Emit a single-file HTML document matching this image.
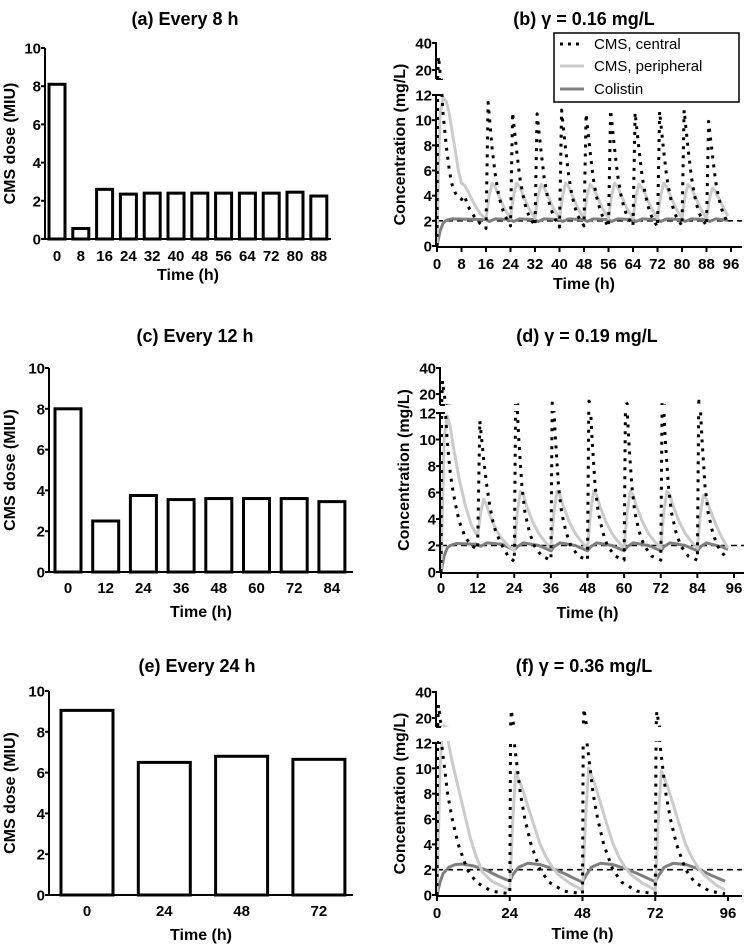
<!DOCTYPE html>
<html><head><meta charset="utf-8">
<style>
html,body{margin:0;padding:0;background:#fff;}
svg{display:block;font-family:"Liberation Sans",Arial,sans-serif;}
.t{font-weight:bold;fill:#000;}
</style></head>
<body>
<svg id="fig" width="749" height="946" viewBox="0 0 749 946" xmlns="http://www.w3.org/2000/svg">
<defs>
<clipPath id="cl-b"><rect x="437" y="93" width="310" height="160"/></clipPath>
<clipPath id="cu-b"><rect x="437" y="42" width="310" height="38"/></clipPath>
<clipPath id="cl-d"><rect x="441" y="411" width="306" height="168"/></clipPath>
<clipPath id="cu-d"><rect x="441" y="367" width="306" height="38"/></clipPath>
<clipPath id="cl-f"><rect x="437" y="741" width="310" height="160"/></clipPath>
<clipPath id="cu-f"><rect x="437" y="691" width="310" height="36"/></clipPath>
</defs>
</svg>
<script>
// ---------- DATA ----------
const catsA = ["0","8","16","24","32","40","48","56","64","72","80","88"];
const doseA = [8.1,0.55,2.6,2.35,2.4,2.4,2.4,2.4,2.4,2.4,2.45,2.25];
const catsC = ["0","12","24","36","48","60","72","84"];
const doseC = [8.0,2.5,3.75,3.55,3.6,3.6,3.6,3.45];
const catsE = ["0","24","48","72"];
const doseE = [9.05,6.5,6.8,6.65];
const barYTicks = [0,2,4,6,8,10];

const xTicksB = [0,8,16,24,32,40,48,56,64,72,80,88,96];
const xTicksD = [0,12,24,36,48,60,72,84,96];
const xTicksF = [0,24,48,72,96];
const concLowTicks = [0,2,4,6,8,10,12];
const concHighTicks = [20,40];
const target = 2;

const centralB = [[0,0],[0.5,30],[1,18],[1.5,12.5],[2,10.5],[3,8],[4,6],[5,4.8],[6,4.2],[7,3.9],[8,3.7],[9,4.0],[10,3.2],[12,2.4],[14,1.8],[16,1.4],
[16.7,11.4],[18,7.8],[19,5.7],[20,4.2],[21,3.2],[22,2.5],[24,1.6],
[24.7,10.6],[26,7.6],[27,5.5],[28,4.1],[29,3.1],[30,2.4],[32,1.6],
[32.7,10.5],[34,7.5],[35,5.4],[36,4.0],[37,3.1],[38,2.4],[40,1.5],
[40.7,10.8],[42,7.7],[43,5.6],[44,4.1],[45,3.1],[46,2.4],[48,1.6],
[48.7,10.5],[50,7.5],[51,5.4],[52,4.0],[53,3.1],[54,2.4],[56,1.5],
[56.7,10.8],[58,7.7],[59,5.6],[60,4.1],[61,3.1],[62,2.4],[64,1.6],
[64.7,10.6],[66,7.6],[67,5.5],[68,4.1],[69,3.1],[70,2.4],[72,1.5],
[72.7,10.7],[74,7.6],[75,5.5],[76,4.1],[77,3.1],[78,2.4],[80,1.6],
[80.7,10.8],[82,7.7],[83,5.6],[84,4.1],[85,3.1],[86,2.4],[88,1.6],
[88.7,9.9],[90,7.1],[91,5.1],[92,3.8],[93,2.9],[94,2.3],[95,1.8]];
const periphB = [[0,0],[0.5,6],[1,10.5],[2,11.8],[3,11.5],[4,10.5],[5,9],[6,7.5],[7,6],[8,5],[9,4.8],[10,4.4],[12,3.4],[14,2.6],[16,2.1],
[17,4],[18,5],[19,4.7],[20,4.1],[22,3],[24,2.2],[25,4],[26,5],[27,4.7],[28,4.1],[30,3],[32,2.2],[33,4],[34,4.9],[35,4.6],[36,4.1],[38,3],[40,2.2],
[41,4],[42,5],[43,4.7],[44,4.1],[46,3],[48,2.2],[49,4],[50,4.9],[51,4.6],[52,4.1],[54,3],[56,2.2],[57,4],[58,5],[59,4.7],[60,4.1],[62,3],[64,2.2],
[65,4],[66,4.9],[67,4.6],[68,4.1],[70,3],[72,2.2],[73,4],[74,5],[75,4.7],[76,4.1],[78,3],[80,2.2],[81,4],[82,4.9],[83,4.6],[84,4.1],[86,3],[88,2.2],
[89,3.8],[90,4.6],[91,4.3],[92,3.8],[94,2.8],[95,2.4]];
const colistinB = [[0,0],[1,1.2],[2,1.8],[3,2.05],[5,2.15],[16,2.1],[17,1.95],[19,2.15],[24,2.1],[25,1.95],[27,2.15],[32,2.1],[33,1.95],[35,2.15],
[40,2.1],[41,1.95],[43,2.15],[48,2.1],[49,1.95],[51,2.15],[56,2.1],[57,1.95],[59,2.15],[64,2.1],[65,1.95],[67,2.15],[72,2.1],[73,1.95],[75,2.15],
[80,2.1],[81,1.95],[83,2.15],[88,2.1],[89,1.95],[91,2.15],[95,2.05]];

const centralD = [[0,0],[0.5,30],[1,20],[1.5,12],[2,10],[3,7.5],[4,6],[5,4.8],[6,3.8],[8,2.6],[10,2],[12,1.7],
[12.7,11.4],[14,8.5],[15,6.5],[16,5],[17,3.8],[18,3],[20,2],[22,1.2],[24,0.8],
[24.5,14.5],[25.5,10],[26.5,6.5],[27.5,4.5],[29,3],[30.5,2],[33,1.2],[36,0.9],
[36.5,14.5],[37.5,10],[38.5,6.5],[39.5,4.5],[41,3],[42.5,2],[45,1.2],[48,0.9],
[48.5,14.5],[49.5,10],[50.5,6.5],[51.5,4.5],[53,3],[54.5,2],[57,1.2],[60,0.9],
[60.5,14.5],[61.5,10],[62.5,6.5],[63.5,4.5],[65,3],[66.5,2],[69,1.2],[72,0.9],
[72.5,14.5],[73.5,10],[74.5,6.5],[75.5,4.5],[77,3],[78.5,2],[81,1.2],[84,0.9],
[84.5,14.5],[85.5,10],[86.5,6.5],[87.5,4.5],[89,3],[90.5,2],[93,1.2],[94,1.1]];
const periphD = [[0,0],[1,10],[2,11.8],[3,11],[4,9.5],[6,7],[8,5],[10,3.5],[12,2.7],[13,4.5],[14,5.5],[15,5],[16,4.3],[18,3.2],[20,2.5],[22,2],[24,1.6],
[25,4.5],[26,6.1],[27,5.8],[28,5],[30,3.8],[32,2.9],[34,2.3],[36,1.8],[37,4.5],[38,6.1],[39,5.8],[40,5],[42,3.8],[44,2.9],[46,2.3],[48,1.8],
[49,4.5],[50,6.1],[51,5.8],[52,5],[54,3.8],[56,2.9],[58,2.3],[60,1.8],[61,4.5],[62,6.1],[63,5.8],[64,5],[66,3.8],[68,2.9],[70,2.3],[72,1.8],
[73,4.5],[74,6.1],[75,5.8],[76,5],[78,3.8],[80,2.9],[82,2.3],[84,1.8],[85,4.4],[86,5.8],[87,5.5],[88,4.8],[90,3.6],[92,2.6],[94,1.8]];
const colistinD = [[0,0],[1,1.2],[2,1.8],[3,2.0],[5,2.15],[12,2.1],[13,1.95],[15,2.2],[20,2.1],[24,1.65],[25,1.9],[27,2.2],[32,2.0],[36,1.6],[37,1.9],[39,2.2],
[44,2.0],[48,1.6],[49,1.9],[51,2.2],[56,2.0],[60,1.6],[61,1.9],[63,2.2],[68,2.0],[72,1.6],[73,1.9],[75,2.2],[80,2.0],[84,1.6],[85,1.9],[87,2.2],[92,1.9],[94,1.7]];

const centralF = [[0,0],[0.5,30],[1,20],[1.5,12],[2.5,10],[3.5,8],[5,6],[7,4],[10,2],[13,1],[18,0.3],[24,0.1],
[24.5,26],[25,18],[25.5,12],[26.5,10],[27.5,8],[29,6],[31,4],[34,2],[37,1],[42,0.3],[48,0.1],
[48.5,27],[49,19],[49.5,12],[50.5,10],[51.5,8],[53,6],[55,4],[58,2],[61,1],[66,0.3],[72,0.1],
[72.5,25],[73,18],[73.5,12],[74.5,10],[75.5,8],[77,6],[79,4],[82,2],[85,1],[90,0.3],[95,0.1]];
const periphF = [[0,0],[1,10],[2,14],[3,13],[5,10.5],[7,8.5],[9,6.5],[11,4.5],[13,3],[15,1.8],[18,1.1],[24,0.4],
[25,6],[26,9.7],[28,8.5],[30,7],[32,5.5],[34,4],[36,3],[38,2.2],[40,1.6],[44,0.9],[48,0.4],
[49,6],[50,10],[52,8.8],[54,7.2],[56,5.6],[58,4.1],[60,3],[62,2.2],[64,1.6],[68,0.9],[72,0.4],
[73,6],[74,9.8],[76,8.6],[78,7.1],[80,5.5],[82,4],[84,3],[86,2.2],[88,1.6],[92,0.8],[95,0.4]];
const colistinF = [[0,0],[1,1],[2,1.7],[4,2.2],[6,2.4],[8,2.45],[12,2.3],[16,2],[20,1.5],[24,1.1],[25,1.6],[27,2.2],[30,2.5],[34,2.4],[38,2.1],[42,1.7],
[48,1.0],[49,1.5],[51,2.2],[54,2.5],[58,2.4],[62,2.1],[66,1.7],[72,1.05],[73,1.5],[75,2.2],[78,2.5],[82,2.4],[86,2.1],[90,1.6],[95,1.1]];

// ---------- DRAW ----------
const svg = document.getElementById('fig');
const NS = 'http://www.w3.org/2000/svg';
const TICK = 15, TITLE = 18, AXT = 16;
function mk(tag, attrs, parent){
  const e = document.createElementNS(NS, tag);
  for (const k in attrs) e.setAttribute(k, attrs[k]);
  (parent||svg).appendChild(e);
  return e;
}
function txt(str, x, y, size, anchor, parent, rot){
  const e = mk('text', {x:x, y:y, 'font-size':size, 'text-anchor':anchor||'middle', class:'t'}, parent);
  if (rot) e.setAttribute('transform', 'rotate(-90 '+x+' '+y+')');
  e.textContent = str;
  return e;
}

function barPanel(id, cfg, cats, vals){
  const g = mk('g', {});
  
  
  const y = v => cfg.y0 + (cfg.y10 - cfg.y0) * v / 10;
  const t = txt(cfg.title, cfg.tx, cfg.ty, TITLE, 'middle', g);
  
  
  cats.forEach((c, i) => {
    const cx = cfg.c0 + i * cfg.step;
    const r = mk('rect', {x:cx - cfg.bw/2, y:y(vals[i]), width:cfg.bw, height:cfg.y0 - y(vals[i]), fill:'#fff', stroke:'#000', 'stroke-width':3}, g);
    
    
    const l = txt(c, cx, cfg.lblY, TICK, 'middle', g);
    
    
  });
  mk('line', {x1:cfg.ax, y1:cfg.y10, x2:cfg.ax, y2:cfg.y0+1, stroke:'#000', 'stroke-width':2}, g);
  mk('line', {x1:cfg.ax, y1:cfg.y0, x2:cfg.axEnd, y2:cfg.y0, stroke:'#000', 'stroke-width':2}, g);
  barYTicks.forEach(v => {
    mk('line', {x1:cfg.ax-4, y1:y(v), x2:cfg.ax, y2:y(v), stroke:'#000', 'stroke-width':2}, g);
    const l = txt(String(v), cfg.ax-4, y(v)+5.5, TICK, 'end', g);
    
    
  });
  const yt = txt('CMS dose (MIU)', 15, (cfg.y0+cfg.y10)/2, AXT, 'middle', g, true);
  
  
  const xt = txt('Time (h)', (cfg.ax+cfg.axEnd)/2, cfg.xtY, AXT, 'middle', g);
  
  
}

function linePanel(id, cfg, xTicks, central, periph, colistin){
  const g = mk('g', {});
  
  
  const x = v => cfg.x0 + (cfg.x96 - cfg.x0) * v / 96;
  const yL = v => cfg.y0 + (cfg.y12 - cfg.y0) * v / 12;
  const yU = v => cfg.y40 + (cfg.y20 - cfg.y40) * (40 - v) / 20;
  const t = txt(cfg.title, cfg.tx, cfg.ty, TITLE, 'middle', g);
  
  
  const tl = mk('line', {x1:cfg.x0, y1:yL(target), x2:cfg.axEnd, y2:yL(target), stroke:'#000', 'stroke-width':1.6, 'stroke-dasharray':'6 4'}, g);
  
  
  const series = [
    {name:'cms-central', d:central, stroke:'#000', w:3, dash:'3 6'},
    {name:'cms-peripheral', d:periph, stroke:'#cbcbcb', w:3, dash:null},
    {name:'colistin', d:colistin, stroke:'#7f7f7f', w:3, dash:null}
  ];
  series.slice().reverse().forEach(s => {
    [['l', yL], ['u', yU]].forEach(([seg, yf]) => {
      const dstr = s.d.map((p, i) => (i ? 'L' : 'M') + x(p[0]).toFixed(1) + ',' + yf(p[1]).toFixed(1)).join('');
      const attrs = {d:dstr, fill:'none', stroke:s.stroke, 'stroke-width':s.w, 'clip-path':'url(#c'+seg+'-'+id+')', 'stroke-linejoin':'round'};
      if (s.dash) attrs['stroke-dasharray'] = s.dash;
      const p = mk('path', attrs, g);
      
      
    });
  });
  mk('line', {x1:cfg.x0-1, y1:cfg.y12, x2:cfg.x0-1, y2:cfg.y0+1, stroke:'#000', 'stroke-width':2}, g);
  mk('line', {x1:cfg.x0-1, y1:cfg.y40, x2:cfg.x0-1, y2:cfg.yBrk, stroke:'#000', 'stroke-width':2}, g);
  mk('line', {x1:cfg.x0-1, y1:cfg.yBrk, x2:cfg.x0+4, y2:cfg.yBrk, stroke:'#000', 'stroke-width':2}, g);
  mk('line', {x1:cfg.x0-1, y1:cfg.y12, x2:cfg.x0+4, y2:cfg.y12, stroke:'#000', 'stroke-width':2}, g);
  mk('line', {x1:cfg.x0-1, y1:cfg.y0+1, x2:cfg.axEnd, y2:cfg.y0+1, stroke:'#000', 'stroke-width':2}, g);
  concLowTicks.forEach(v => {
    mk('line', {x1:cfg.x0-5, y1:yL(v), x2:cfg.x0, y2:yL(v), stroke:'#000', 'stroke-width':2}, g);
    const l = txt(String(v), cfg.x0-5, yL(v)+5.5, TICK, 'end', g);
    
    
  });
  concHighTicks.forEach(v => {
    mk('line', {x1:cfg.x0-5, y1:yU(v), x2:cfg.x0, y2:yU(v), stroke:'#000', 'stroke-width':2}, g);
    const l = txt(String(v), cfg.x0-5, yU(v)+5.5, TICK, 'end', g);
    
    
  });
  xTicks.forEach(v => {
    mk('line', {x1:x(v), y1:cfg.y0+1, x2:x(v), y2:cfg.y0+6, stroke:'#000', 'stroke-width':2}, g);
    const l = txt(String(v), x(v), cfg.lblY, TICK, 'middle', g);
    
    
  });
  const yt = txt('Concentration (mg/L)', cfg.x0-32, (cfg.y0+cfg.y40)/2, AXT, 'middle', g, true);
  
  
  const xt = txt('Time (h)', (cfg.x0+cfg.x96)/2, cfg.xtY, AXT, 'middle', g);
  
  
}

barPanel('a', {title:'(a) Every 8 h', tx:185, ty:25, ax:45, axEnd:331, y0:239, y10:48, c0:57, step:23.8, bw:16, lblY:261, xtY:280}, catsA, doseA);
barPanel('c', {title:'(c) Every 12 h', tx:195, ty:342, ax:49, axEnd:353, y0:572, y10:368, c0:68, step:37.7, bw:26, lblY:593, xtY:617}, catsC, doseC);
barPanel('e', {title:'(e)  Every 24 h', tx:197, ty:672, ax:49, axEnd:353, y0:895, y10:691, c0:87, step:77.3, bw:52, lblY:916, xtY:940}, catsE, doseE);

linePanel('b', {title:'(b) \u03b3 = 0.16 mg/L', tx:584, ty:25, x0:437, x96:731, axEnd:742, y0:246, y12:95, y40:43, y20:70, yBrk:79, lblY:269, xtY:289}, xTicksB, centralB, periphB, colistinB);
linePanel('d', {title:'(d) \u03b3 = 0.19 mg/L', tx:587, ty:342, x0:441, x96:734, axEnd:744, y0:572, y12:413, y40:368, y20:394, yBrk:405, lblY:593, xtY:618}, xTicksD, centralD, periphD, colistinD);
linePanel('f', {title:'(f)  \u03b3 = 0.36 mg/L', tx:584, ty:672, x0:437, x96:728, axEnd:742, y0:895, y12:743, y40:692, y20:718, yBrk:727, lblY:918, xtY:939}, xTicksF, centralF, periphF, colistinF);

const lg = mk('g', {});


mk('rect', {x:554, y:33, width:185, height:69, fill:'#fff', stroke:'#000', 'stroke-width':1.5}, lg);
const legItems = [['CMS, central','#000','3 5',44],['CMS, peripheral','#cbcbcb',null,66],['Colistin','#7f7f7f',null,89]];
legItems.forEach(it => {
  const a = {x1:560, y1:it[3], x2:584, y2:it[3], stroke:it[1], 'stroke-width':3};
  if (it[2]) a['stroke-dasharray'] = it[2];
  const ln = mk('line', a, lg);
  
  
  const tx = mk('text', {x:594, y:it[3]+5, 'font-size':15}, lg);
  tx.textContent = it[0];
  
  
});
</script>
</body></html>
